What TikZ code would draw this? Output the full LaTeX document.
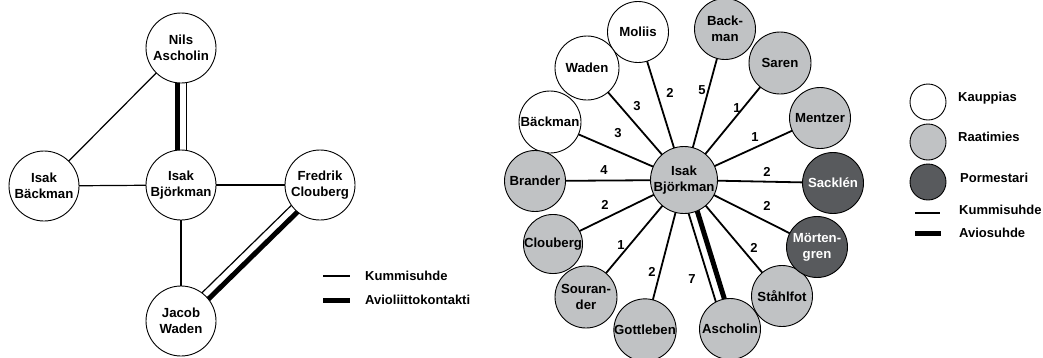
\documentclass[tikz,border=0pt]{standalone}
\usepackage{fontspec}
\setmainfont{Liberation Sans}
\usetikzlibrary{calc,backgrounds}
\definecolor{raati}{RGB}{192,194,196}
\definecolor{porme}{RGB}{88,90,93}
\begin{document}
\begin{tikzpicture}[x=1pt,y=-1pt,
  person/.style={circle,draw=black,line width=0.9pt,fill=white,minimum size=70pt,inner sep=0pt,align=center,font=\bfseries\fontsize{13.2}{16}\selectfont},
  kauppias/.style={person,minimum size=61pt},
  raatimies/.style={kauppias,fill=raati},
  pormestari/.style={kauppias,fill=porme,text=white},
  kummi/.style={line width=1.2pt},
  kummiR/.style={line width=1.8pt},
  avio/.style={line width=5pt},
  num/.style={font=\bfseries\fontsize{13}{15}\selectfont,inner sep=0pt},
  legtext/.style={anchor=west,font=\bfseries\fontsize{13}{15}\selectfont,inner sep=0pt},
  legcircle/.style={minimum size=36pt}
]
\useasboundingbox (0,0) rectangle (1043,357);

% ---------- left diagram ----------
\node[person] (nils) at (181,48) {Nils\\Ascholin};
\node[person] (ibaeck) at (44,186) {Isak\\Bäckman};
\node[person] (ibjork) at (181,185) {Isak\\Björkman};
\node[person] (fclou) at (320,185) {Fredrik\\Clouberg};
\node[person] (jwaden) at (181,321) {Jacob\\Waden};

\begin{scope}[on background layer]
  \draw[kummi] (nils.center) -- (ibaeck.center);
  \draw[kummi] (ibaeck.center) -- (ibjork.center);
  \draw[kummi] (ibjork.center) -- (fclou.center);
  \draw[kummi] (ibjork.center) -- (jwaden.center);
  \draw[avio] ($(nils.center)!3.5pt!-90:(ibjork.center)$) -- ($(ibjork.center)!3.5pt!90:(nils.center)$);
  \draw[kummi] ($(nils.center)!5.5pt!90:(ibjork.center)$) -- ($(ibjork.center)!5.5pt!-90:(nils.center)$);
  \draw[avio] ($(fclou.center)!3.5pt!90:(jwaden.center)$) -- ($(jwaden.center)!3.5pt!-90:(fclou.center)$);
  \draw[kummi] ($(fclou.center)!5.5pt!-90:(jwaden.center)$) -- ($(jwaden.center)!5.5pt!90:(fclou.center)$);
\end{scope}

% left legend
\coordinate (lk1) at (323,276);
\coordinate (lk2) at (350,276);
\coordinate (la1) at (323,300);
\coordinate (la2) at (350,300);
\draw[kummi] (lk1) -- (lk2);
\draw[avio] (la1) -- (la2);
\node[legtext] (lkt) at (365,276) {Kummisuhde};
\node[legtext] (lat) at (365,300) {Avioliittokontakti};

% ---------- right diagram ----------
\node[raatimies,minimum size=67pt] (rbjork) at (684,180) {Isak\\Björkman};
\node[kauppias] (moliis) at (638,32) {Moliis};
\node[kauppias,minimum size=64pt] (waden) at (587,68) {Waden};
\node[kauppias,minimum size=62pt] (baeck) at (550,122) {Bäckman};
\node[raatimies] (brander) at (535,181) {Brander};
\node[raatimies,minimum size=59pt] (clou) at (553,244) {Clouberg};
\node[raatimies,minimum size=62pt] (souran) at (586,297) {Souran-\\der};
\node[raatimies] (gott) at (645,330) {Gottleben};
\node[raatimies] (asch) at (730,329) {Ascholin};
\node[raatimies] (stahl) at (782,296) {Ståhlfot};
\node[pormestari] (mort) at (817,247) {Mörten-\\gren};
\node[pormestari] (sack) at (833,183) {Sacklén};
\node[raatimies] (mentz) at (820,118) {Mentzer};
\node[raatimies,minimum size=62pt] (saren) at (780,63) {Saren};
\node[raatimies] (backm) at (725,29) {Back-\\man};

\begin{scope}[on background layer]
  \foreach \n in {moliis,waden,baeck,brander,clou,souran,gott,stahl,mort,sack,mentz,saren,backm}
    \draw[kummiR] (rbjork.center) -- (\n.center);
  \draw[avio] ($(rbjork.center)!3.5pt!90:(asch.center)$) -- ($(asch.center)!3.5pt!-90:(rbjork.center)$);
  \draw[kummiR] ($(rbjork.center)!5.5pt!-90:(asch.center)$) -- ($(asch.center)!5.5pt!90:(rbjork.center)$);
\end{scope}

% edge numbers
\node[num] (n1) at (670,93) {2};
\node[num] (n2) at (637,106) {3};
\node[num] (n3) at (618,133) {3};
\node[num] (n4) at (604,170) {4};
\node[num] (n5) at (702,90) {5};
\node[num] (n6) at (737,108) {1};
\node[num] (n7) at (755,137) {1};
\node[num] (n8) at (767,172) {2};
\node[num] (n9) at (605,205) {2};
\node[num] (n10) at (621,245) {1};
\node[num] (n11) at (652,272) {2};
\node[num] (n12) at (767,206) {2};
\node[num] (n13) at (754,248) {2};
\node[num] (n14) at (692,279) {7};

% right legend
\node[kauppias,legcircle] (lgk) at (928,102) {};
\node[raatimies,legcircle] (lgr) at (928,142) {};
\node[pormestari,legcircle] (lgp) at (928,182) {};
\node[legtext] (lgkt) at (958,98) {Kauppias};
\node[legtext] (lgrt) at (958,137) {Raatimies};
\node[legtext] (lgpt) at (960,178) {Pormestari};
\coordinate (rk1) at (915,213);
\coordinate (rk2) at (940,213);
\coordinate (ra1) at (915,233);
\coordinate (ra2) at (941,233);
\draw[kummi] (rk1) -- (rk2);
\draw[avio] (ra1) -- (ra2);
\node[legtext] (lgkm) at (959,210) {Kummisuhde};
\node[legtext] (lgav) at (959,233) {Aviosuhde};
\end{tikzpicture}
\end{document}
